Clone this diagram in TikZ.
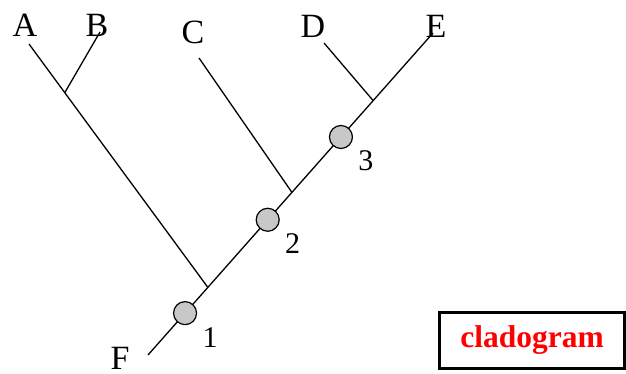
\documentclass[tikz,border=0pt]{standalone}
\usepackage{fontspec}
\setmainfont{Liberation Serif}
\usetikzlibrary{positioning, calc}
\definecolor{eventgray}{HTML}{C8C8C8}
\definecolor{titlered}{HTML}{FF0000}

\begin{document}
\begin{tikzpicture}[x=1pt, y=1pt,
    branch/.style={line width=1.3pt},
    taxon/.style={font=\fontsize{34}{34}\selectfont, inner sep=0pt},
    event/.style={circle, draw, line width=1.2pt, fill=eventgray, minimum size=23pt, inner sep=0pt},
    eventnum/.style={font=\fontsize{30}{30}\selectfont, inner sep=0pt}]
    \useasboundingbox (0,0) rectangle (626,374);
    % tips and root of the tree
    \coordinate (root) at (148,19);
    \coordinate (tipA) at (29,330);
    \coordinate (tipB) at (100,342);
    \coordinate (tipC) at (199,316);
    \coordinate (tipD) at (324,331);
    \coordinate (tipE) at (433,341);
    % where the branches meet
    \coordinate (jA) at ($(root)!0.21!(tipE)$);
    \coordinate (jB) at ($(tipA)!0.2!(jA)$);
    \coordinate (jC) at ($(root)!0.505!(tipE)$);
    \coordinate (jD) at ($(root)!0.79!(tipE)$);

    \draw[branch] (root) -- (tipE);
    \draw[branch] (tipA) -- (jA);
    \draw[branch] (tipB) -- (jB);
    \draw[branch] (tipC) -- (jC);
    \draw[branch] (tipD) -- (jD);

    \node[event] (e1) at ($(root)!0.13!(tipE)$) {};
    \node[event] (e2) at ($(root)!0.42!(tipE)$) {};
    \node[event] (e3) at ($(root)!0.677!(tipE)$) {};
    \node[eventnum] (n1) at ($(e1)+(25,-24)$) {1};
    \node[eventnum] (n2) at ($(e2)+(25,-24)$) {2};
    \node[eventnum] (n3) at ($(e3)+(25,-24)$) {3};

    \node[taxon] (A) at (25,349) {A};
    \node[taxon] (B) at (97,349) {B};
    \node[taxon] (C) at (193,342) {C};
    \node[taxon] (D) at (313,348) {D};
    \node[taxon] (E) at (436,348) {E};
    \node[taxon] (F) at (120,16) {F};

    \node[draw, line width=2.5pt, minimum width=185pt, minimum height=56pt,
      font=\bfseries\fontsize{31.5}{31.5}\selectfont, text=titlered] (title) at (532,33.5) {cladogram};
  \end{tikzpicture}
\end{document}
